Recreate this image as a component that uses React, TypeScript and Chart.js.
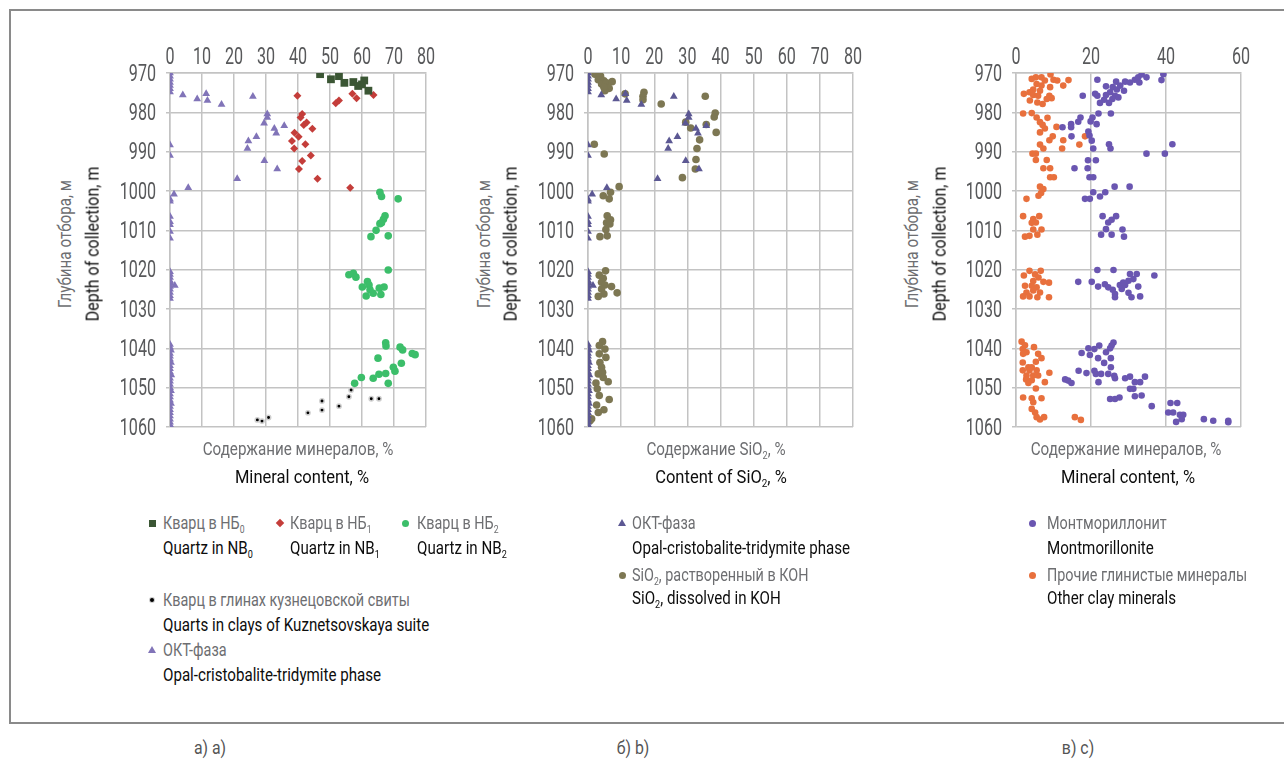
import React, { useEffect, useRef } from "react";
import { Chart, registerables } from "chart.js";

Chart.register(...registerables);

const FONT = 'Roboto, "Liberation Sans", sans-serif';
const TICK = "#58595b";
const GRID = "#c3c3c3";
const RU = "#6d6e71";
const EN = "#0d0d0d";
const SQ_RU = 0.8; // horizontal condensing of Russian lines
const SQ_EN = 0.84; // horizontal condensing of English lines
const TICK_SQUEEZE = 0.7; // horizontal condensing of tick labels

type P = [number, number]; // [content %, depth m]

// ---------- tick labels ----------
const depthTicks = [970, 980, 990, 1000, 1010, 1020, 1030, 1040, 1050, 1060];
const contentTicksAB = [0, 10, 20, 30, 40, 50, 60, 70, 80];
const contentTicksC = [0, 20, 40, 60];

// ---------- panel a ----------
const quartzNB0: P[] = [
  [46.9, 970.3], [50.3, 971.6], [52.8, 970.8], [54.5, 972.5], [57.3, 972.3],
  [58.8, 973.3], [60.0, 972.9], [60.7, 971.9], [62.0, 974.5],
];

const quartzNB1: P[] = [
  [39.8, 975.8], [57.0, 975.3], [58.3, 976.4], [63.6, 975.6], [51.8, 977.7],
  [52.8, 977.0], [41.3, 980.4], [40.8, 981.3], [41.8, 983.2], [42.7, 982.6],
  [44.5, 984.2], [38.9, 985.2], [40.2, 986.2], [38.1, 987.3], [42.3, 988.1],
  [38.8, 989.2], [44.0, 991.0], [41.3, 992.4], [40.3, 994.4], [46.1, 996.9],
  [56.3, 999.2],
];

const quartzNB2: P[] = [
  [65.6, 1000.3], [66.1, 1001.4], [71.3, 1002.0], [67.2, 1006.3], [66.7, 1007.2],
  [66.1, 1008.1], [65.6, 1008.3], [64.4, 1010.0], [62.8, 1011.6], [68.2, 1011.4],
  [68.2, 1020.1], [55.9, 1021.3], [57.3, 1020.9], [58.1, 1021.9], [60.1, 1024.4],
  [61.7, 1023.0], [62.2, 1023.9], [62.5, 1025.1], [61.3, 1026.7], [63.5, 1026.0],
  [65.4, 1024.7], [66.9, 1024.4], [65.9, 1026.3], [67.4, 1038.6], [67.5, 1039.4],
  [71.9, 1039.7], [72.7, 1040.4], [75.7, 1041.3], [76.6, 1041.6], [65.0, 1042.5],
  [72.3, 1043.8], [69.8, 1044.8], [70.3, 1045.8], [67.4, 1046.4], [65.3, 1046.6],
  [63.5, 1047.6], [59.8, 1047.4], [57.7, 1048.9], [68.2, 1048.9],
];

const quartzKuznetsovskaya: P[] = [
  [27.3, 1058.2], [28.75, 1058.5], [30.8, 1057.6], [43.1, 1056.4], [47.5, 1055.7],
  [47.5, 1053.4], [52.8, 1054.7], [55.9, 1052.3], [56.6, 1050.6], [62.9, 1052.8],
  [65.3, 1052.8],
];

// OCT phase (panels a and b)
const octPhase: P[] = [
  [0, 970.0], [0, 970.8], [0, 971.6], [0, 972.4], [0, 973.2], [0, 974.0], [0, 974.8],
  [4.0, 975.6], [8.5, 976.6], [11.3, 975.3], [11.7, 977.0], [16.1, 978.0], [25.9, 976.0],
  [30.4, 980.4], [30.4, 981.3], [29.4, 982.8], [32.6, 984.1], [33.2, 985.3], [35.7, 983.4],
  [27.0, 986.2], [24.5, 987.3], [24.2, 989.2], [29.5, 992.3], [33.5, 994.4], [21.0, 996.9],
  [5.7, 999.2], [1.25, 1000.8], [0, 1002.1], [0, 1002.6], [0, 988.3], [0, 991.0],
  [0, 1006.5], [0, 1007.8], [0, 1008.6], [0, 1010.3], [0, 1012.0],
  [0, 1020.5], [0, 1021.2], [0, 1022.0], [0, 1022.8], [0.3, 1023.5], [1.5, 1024.0],
  [0, 1024.3], [0, 1025.0], [0, 1025.8], [0, 1026.6], [0, 1027.3],
  [0, 1039.0], [0, 1039.7], [0.3, 1040.5], [0, 1041.3], [0, 1042.0], [0, 1042.8],
  [0.3, 1043.6], [0, 1044.4], [0, 1045.2], [0, 1046.0], [0.4, 1046.8], [0, 1047.6],
  [0, 1048.4], [0, 1049.2], [0, 1050.0], [0.3, 1050.8], [0, 1051.6], [0, 1052.4],
  [0, 1053.2], [0.3, 1054.0], [0, 1054.8], [0, 1055.6], [0, 1056.4], [0, 1057.2],
  [0, 1058.0], [0, 1058.8], [0, 1059.4],
];

// ---------- panel b ----------
const sio2InKOH: P[] = [
  [2.1, 970.3], [3.8, 970.8], [3.1, 971.7], [4.8, 972.0], [4.1, 972.8], [5.6, 972.5],
  [7.3, 972.2], [6.4, 973.9], [5.1, 974.5], [4.8, 973.6], [11.2, 975.3], [16.9, 974.9],
  [16.6, 975.9], [16.6, 976.8], [22.1, 977.9], [35.4, 975.9], [38.4, 980.2], [38.1, 981.2],
  [35.7, 983.1], [38.7, 985.1], [29.5, 982.5], [31.0, 984.0], [33.7, 987.0], [32.9, 989.2],
  [32.6, 992.0], [32.4, 994.4], [28.5, 996.6], [1.9, 988.1], [4.9, 990.6], [9.4, 998.9],
  [4.6, 1001.2], [6.8, 1000.3], [6.4, 1002.0], [5.8, 1006.3], [6.8, 1007.3], [5.6, 1008.1],
  [6.6, 1008.4], [5.4, 1009.8], [5.8, 1011.4], [3.6, 1011.6],
  [5.3, 1020.3], [3.4, 1021.4], [4.6, 1022.2], [4.1, 1023.2], [5.1, 1023.9], [7.1, 1024.3],
  [4.1, 1024.9], [8.8, 1025.9], [4.8, 1026.2], [3.1, 1026.8],
  [4.4, 1038.3], [3.4, 1039.3], [5.1, 1040.2], [3.4, 1041.4], [5.4, 1042.3], [3.6, 1043.6],
  [4.1, 1044.8], [4.4, 1046.1], [3.1, 1046.5], [4.6, 1047.4], [6.1, 1048.5], [2.4, 1048.8],
  [2.8, 1050.3], [3.4, 1052.0], [6.4, 1053.0], [2.6, 1054.4], [4.8, 1055.6], [3.1, 1056.3],
  [1.1, 1057.9], [0.6, 1058.4],
];

// ---------- panel c ----------
const montmorillonite: P[] = [
  [21.7, 971.7], [24.0, 973.4], [26.7, 972.2], [25.8, 973.6], [26.9, 974.2], [27.8, 973.2],
  [29.1, 972.2], [30.4, 972.4], [31.7, 971.7], [32.6, 971.1], [33.5, 970.4], [34.8, 971.1],
  [32.9, 972.4], [39.3, 970.3], [38.8, 971.8], [28.8, 974.5], [25.1, 974.9], [24.0, 975.6],
  [21.7, 975.8], [21.1, 975.3], [17.8, 975.8], [26.4, 975.8], [27.3, 976.2], [25.7, 976.6],
  [23.5, 976.8], [22.4, 977.6], [24.8, 977.6], [22.0, 980.3], [25.3, 980.3], [20.4, 981.3],
  [19.9, 982.3], [17.2, 981.3], [16.6, 982.4], [21.5, 983.0], [14.7, 983.0], [14.7, 983.8],
  [12.4, 983.8], [19.3, 984.9], [19.6, 985.9], [14.8, 986.1], [20.2, 987.2], [20.6, 989.2],
  [24.8, 988.1], [25.2, 989.2], [41.7, 988.1], [34.8, 990.5], [39.7, 990.5], [19.2, 992.2],
  [21.3, 992.2], [15.6, 994.2], [19.1, 994.2], [19.6, 996.5], [20.6, 996.5], [26.3, 998.9],
  [30.3, 998.9], [20.6, 1000.3], [23.8, 1000.3], [22.4, 1001.4], [18.4, 1002.0], [19.7, 1002.0],
  [23.1, 1006.4], [26.7, 1006.4], [25.5, 1007.3], [24.6, 1008.0], [24.0, 1009.7], [22.7, 1011.1],
  [25.5, 1011.1], [28.4, 1009.8], [28.8, 1011.6],
  [21.7, 1020.1], [26.0, 1020.1], [16.6, 1023.1], [20.2, 1023.1], [21.9, 1024.3], [23.7, 1023.7],
  [24.6, 1024.5], [25.8, 1025.1], [26.4, 1026.2], [26.4, 1027.0], [28.2, 1024.9], [29.1, 1023.9],
  [30.0, 1022.8], [30.4, 1021.1], [32.2, 1021.1], [31.3, 1022.4], [32.6, 1024.3], [30.0, 1025.9],
  [30.8, 1027.0], [33.1, 1026.8], [36.9, 1021.5], [27.7, 1023.9], [28.6, 1023.3],
  [26.0, 1038.5], [25.5, 1039.3], [25.1, 1040.0], [22.2, 1039.3], [20.9, 1040.2], [19.3, 1040.0],
  [17.5, 1041.2], [19.7, 1041.7], [24.0, 1041.0], [21.9, 1042.5], [25.3, 1042.5], [23.5, 1043.7],
  [25.3, 1044.8], [20.9, 1045.7], [16.7, 1045.7], [18.8, 1046.3], [21.3, 1046.5], [22.7, 1046.5],
  [24.6, 1046.5], [26.2, 1047.0], [26.4, 1047.6], [22.0, 1048.6], [13.1, 1047.9], [13.9, 1048.2],
  [14.8, 1048.8], [29.1, 1047.6], [30.4, 1047.2], [31.7, 1048.6], [33.1, 1048.6], [34.4, 1047.2],
  [30.4, 1050.3], [31.3, 1050.3], [31.7, 1052.2], [33.5, 1052.0], [25.1, 1052.9], [26.4, 1052.9],
  [27.6, 1052.5], [36.2, 1054.7], [41.2, 1053.9], [43.0, 1053.9], [40.6, 1056.3], [41.9, 1056.3],
  [43.7, 1056.9], [44.6, 1056.9], [44.2, 1058.0], [42.7, 1058.7], [50.1, 1058.0], [52.6, 1058.4],
  [56.6, 1058.4], [56.6, 1058.8],
];

const otherClayMinerals: P[] = [
  [4.2, 971.5], [5.3, 971.1], [6.8, 971.1], [9.2, 970.4], [7.7, 971.9], [10.0, 971.7],
  [11.0, 971.9], [14.0, 971.8], [12.6, 973.2], [9.1, 973.6], [5.5, 972.8], [6.8, 973.2],
  [4.6, 974.2], [6.4, 974.5], [2.1, 975.3], [3.6, 974.9], [4.6, 975.6], [5.9, 975.8],
  [8.9, 975.8], [9.5, 976.4], [8.2, 976.6], [3.7, 977.0], [5.7, 977.5], [7.1, 977.9],
  [1.9, 980.3], [4.2, 980.2], [5.5, 981.3], [8.4, 981.4], [6.4, 982.5], [7.1, 983.2],
  [10.8, 983.7], [7.7, 984.1], [6.4, 985.1], [9.8, 986.1], [8.9, 987.1], [12.6, 987.1],
  [18.4, 986.1], [16.9, 988.2], [6.4, 988.2], [7.3, 989.2], [12.3, 989.2], [4.4, 990.5],
  [5.3, 990.5], [8.2, 992.1], [5.3, 992.1], [7.3, 994.2], [9.1, 994.2], [9.1, 996.5],
  [10.1, 996.5], [6.4, 998.9], [7.3, 999.5], [6.7, 1000.5], [6.0, 1001.2], [2.8, 1002.0],
  [1.9, 1006.4], [4.6, 1007.1], [6.2, 1006.4], [4.2, 1008.1], [5.3, 1008.0], [4.6, 1009.8],
  [6.8, 1009.8], [5.7, 1011.1], [2.4, 1011.6], [3.6, 1011.4],
  [2.1, 1021.5], [3.6, 1020.3], [5.1, 1021.2], [6.6, 1020.3], [6.0, 1022.0], [4.6, 1022.9],
  [7.3, 1023.1], [8.8, 1023.3], [2.4, 1024.1], [4.2, 1024.1], [5.5, 1024.5], [4.6, 1025.3],
  [2.8, 1025.8], [6.4, 1025.8], [1.9, 1026.8], [3.6, 1026.8], [5.7, 1027.0], [8.8, 1027.0],
  [1.5, 1038.3], [2.4, 1039.2], [1.8, 1040.2], [2.8, 1041.0], [4.8, 1039.7], [1.9, 1041.4],
  [5.9, 1041.4], [6.8, 1042.5], [5.3, 1043.4], [1.8, 1043.6], [3.3, 1044.8], [4.2, 1044.8],
  [1.8, 1045.6], [3.6, 1045.6], [5.5, 1045.6], [8.9, 1046.2], [2.8, 1046.9], [4.6, 1046.9],
  [5.9, 1046.9], [2.7, 1047.9], [4.2, 1048.1], [7.7, 1048.6], [3.3, 1048.8], [5.3, 1050.2],
  [1.9, 1052.5], [4.2, 1052.7], [6.8, 1052.7], [4.6, 1053.7], [4.2, 1055.4], [5.1, 1056.3],
  [5.5, 1057.5], [6.4, 1058.1], [7.5, 1057.5], [15.7, 1057.5], [17.3, 1058.2],
];

const toXY = (arr: P[]) => arr.map(([x, y]) => ({ x, y }));

// draws the scales' tick labels in a condensed face
const condensedTicks = {
  id: "condensedTicks",
  afterDraw(chart: any) {
    const ctx = chart.ctx;
    const xs = chart.scales.x;
    const ys = chart.scales.y;
    ctx.save();
    ctx.fillStyle = TICK;
    ctx.font = `23px ${FONT}`;
    ctx.textBaseline = "alphabetic";
    ctx.textAlign = "right";
    ys.ticks.forEach((t: any) => {
      const py = ys.getPixelForValue(t.value);
      ctx.save();
      ctx.translate(ys.right - 14, py + 7.5);
      ctx.scale(TICK_SQUEEZE, 1);
      ctx.fillText(String(t.value), 0, 0);
      ctx.restore();
    });
    ctx.textAlign = "center";
    xs.ticks.forEach((t: any) => {
      const px = xs.getPixelForValue(t.value);
      ctx.save();
      ctx.translate(px, xs.bottom - 9);
      ctx.scale(TICK_SQUEEZE, 1);
      ctx.fillText(String(t.value), 0, 0);
      ctx.restore();
    });
    ctx.restore();
  },
};

type PanelProps = {
  left: number; top: number; width: number; height: number;
  yAxisW: number; xAxisH: number; padRight: number; padBottom: number;
  xTicks: number[]; datasets: any[];
};

function ScatterPanel(p: PanelProps) {
  const ref = useRef<HTMLCanvasElement>(null);
  useEffect(() => {
    const xMin = p.xTicks[0];
    const xMax = p.xTicks[p.xTicks.length - 1];
    const chart = new Chart(ref.current as HTMLCanvasElement, {
      type: "scatter",
      data: { datasets: p.datasets },
      plugins: [condensedTicks],
      options: {
        responsive: false,
        animation: false,
        devicePixelRatio: 1,
        layout: { padding: { left: 0, top: 0, right: p.padRight, bottom: p.padBottom } },
        plugins: { legend: { display: false }, tooltip: { enabled: false } },
        scales: {
          x: {
            type: "linear",
            position: "top",
            min: xMin,
            max: xMax,
            afterBuildTicks: (s: any) => { s.ticks = p.xTicks.map((v) => ({ value: v })); },
            afterFit: (s: any) => { s.height = p.xAxisH; },
            ticks: { display: false },
            grid: { color: GRID, lineWidth: 1.5, drawTicks: false },
            border: { color: GRID, width: 1.5 },
          },
          y: {
            type: "linear",
            reverse: true,
            min: depthTicks[0],
            max: depthTicks[depthTicks.length - 1],
            afterBuildTicks: (s: any) => { s.ticks = depthTicks.map((v) => ({ value: v })); },
            afterFit: (s: any) => { s.width = p.yAxisW; },
            ticks: { display: false },
            grid: { color: GRID, lineWidth: 1.5, tickLength: 4 },
            border: { color: GRID, width: 1.5 },
          },
        },
      } as any,
    });
    return () => chart.destroy();
  }, []);
  return (
    <canvas
      ref={ref}
      width={p.width}
      height={p.height}
      style={{ position: "absolute", left: p.left, top: p.top, width: p.width, height: p.height }}
    />
  );
}

const Sub = ({ children }: { children: any }) => (
  <sub style={{ fontSize: "0.6em", verticalAlign: "-0.35em", lineHeight: 0 }}>{children}</sub>
);

function T({ x, y, c, s = 18, k = SQ_EN, center = false, children }: any) {
  return (
    <div
      style={{
        position: "absolute", left: x, top: y - s * 0.6, fontFamily: FONT, fontSize: s,
        lineHeight: `${s * 1.2}px`, color: c, whiteSpace: "nowrap",
        transform: center ? `translateX(-50%) scaleX(${k})` : `scaleX(${k})`,
        transformOrigin: center ? "50% 50%" : "0 50%",
      }}
    >
      {children}
    </div>
  );
}

function VT({ x, y, c, s = 19, k = SQ_EN, children }: any) {
  return (
    <div
      style={{
        position: "absolute", left: x, top: y, fontFamily: FONT, fontSize: s,
        lineHeight: `${s * 1.2}px`, color: c, whiteSpace: "nowrap",
        transform: `translate(-50%, -50%) rotate(-90deg) scaleX(${k})`,
      }}
    >
      {children}
    </div>
  );
}

function Marker({ x, y, kind, color }: any) {
  const base: any = { position: "absolute" };
  if (kind === "square") return <div style={{ ...base, left: x - 3.5, top: y - 3.5, width: 7, height: 7, background: color }} />;
  if (kind === "diamond") return <div style={{ ...base, left: x - 3, top: y - 3, width: 6, height: 6, background: color, transform: "rotate(45deg)" }} />;
  if (kind === "circle") return <div style={{ ...base, left: x - 3.5, top: y - 3.5, width: 7, height: 7, background: color, borderRadius: "50%" }} />;
  if (kind === "dot") return <div style={{ ...base, left: x - 2, top: y - 2, width: 4, height: 4, background: color, borderRadius: "50%", boxShadow: "0 0 0 1px #ccc" }} />;
  return (
    <div style={{ ...base, left: x - 4, top: y - 4, width: 0, height: 0, borderLeft: "4px solid transparent", borderRight: "4px solid transparent", borderBottom: `7px solid ${color}` }} />
  );
}

const C_NB0 = "#3b5634";
const C_NB1 = "#c43d3a";
const C_NB2 = "#3cbe6a";
const C_OCT_A = "#8174b8";
const C_OCT_B = "#5c5893";
const C_KOH = "#7d7753";
const C_MONT = "#6a56b1";
const C_OTHER = "#e8703d";

export default function App() {
  const dsA = [
    { data: toXY(quartzNB0), pointStyle: "rect", pointRadius: 5.5, backgroundColor: C_NB0, borderColor: C_NB0, borderWidth: 0 },
    { data: toXY(quartzNB1), pointStyle: "rectRot", pointRadius: 4, backgroundColor: C_NB1, borderColor: C_NB1, borderWidth: 0 },
    { data: toXY(quartzNB2), pointStyle: "circle", pointRadius: 3.8, backgroundColor: C_NB2, borderColor: C_NB2, borderWidth: 0 },
    { data: toXY(quartzKuznetsovskaya), pointStyle: "circle", pointRadius: 2.2, backgroundColor: "#000", borderColor: "#d0d0d0", borderWidth: 1.5 },
    { data: toXY(octPhase), pointStyle: "triangle", pointRadius: 4.5, backgroundColor: C_OCT_A, borderColor: C_OCT_A, borderWidth: 0 },
  ];
  const dsB = [
    { data: toXY(octPhase), pointStyle: "triangle", pointRadius: 4.5, backgroundColor: C_OCT_B, borderColor: C_OCT_B, borderWidth: 0 },
    { data: toXY(sio2InKOH), pointStyle: "circle", pointRadius: 3.8, backgroundColor: C_KOH, borderColor: C_KOH, borderWidth: 0 },
  ];
  const dsC = [
    { data: toXY(montmorillonite), pointStyle: "circle", pointRadius: 3.3, backgroundColor: C_MONT, borderColor: C_MONT, borderWidth: 0 },
    { data: toXY(otherClayMinerals), pointStyle: "circle", pointRadius: 3.3, backgroundColor: C_OTHER, borderColor: C_OTHER, borderWidth: 0 },
  ];

  return (
    <div style={{ position: "fixed", left: 0, top: 0, width: 1284, height: 760, overflow: "hidden", background: "#fff" }}>
      <div style={{ position: "absolute", left: 9, top: 9, width: 1300, height: 711, border: "2px solid #8a8a8a" }} />

      <ScatterPanel left={100} top={40} width={340} height={400} yAxisW={70} xAxisH={33} padRight={14} padBottom={13} xTicks={contentTicksAB} datasets={dsA} />
      <ScatterPanel left={520} top={40} width={350} height={400} yAxisW={68} xAxisH={33} padRight={17} padBottom={13} xTicks={contentTicksAB} datasets={dsB} />
      <ScatterPanel left={950} top={40} width={310} height={400} yAxisW={66} xAxisH={33} padRight={19} padBottom={13} xTicks={contentTicksC} datasets={dsC} />

      {/* y titles */}
      <VT x={65} y={244} c={RU} k={SQ_RU}>Глубина отбора, м</VT>
      <VT x={93} y={244} c={EN}>Depth of collection, m</VT>
      <VT x={484} y={244} c={RU} k={SQ_RU}>Глубина отбора, м</VT>
      <VT x={511} y={244} c={EN}>Depth of collection, m</VT>
      <VT x={912} y={244} c={RU} k={SQ_RU}>Глубина отбора, м</VT>
      <VT x={940} y={244} c={EN}>Depth of collection, m</VT>

      {/* x titles */}
      <T x={298} y={449} c={RU} s={19} k={SQ_RU} center>Содержание минералов, %</T>
      <T x={302} y={477} c={EN} s={19} k={0.87} center>Mineral content, %</T>
      <T x={716} y={449} c={RU} s={19} k={SQ_RU} center>Содержание SiO<Sub>2</Sub>, %</T>
      <T x={721} y={477} c={EN} s={19} k={0.87} center>Content of SiO<Sub>2</Sub>, %</T>
      <T x={1126} y={449} c={RU} s={19} k={SQ_RU} center>Содержание минералов, %</T>
      <T x={1128} y={477} c={EN} s={19} k={0.87} center>Mineral content, %</T>

      {/* legend a */}
      <Marker x={152} y={523} kind="square" color={C_NB0} />
      <T x={163} y={523} c={RU} k={SQ_RU}>Кварц в НБ<Sub>0</Sub></T>
      <T x={163} y={548} c={EN}>Quartz in NB<Sub>0</Sub></T>
      <Marker x={280} y={523} kind="diamond" color={C_NB1} />
      <T x={290} y={523} c={RU} k={SQ_RU}>Кварц в НБ<Sub>1</Sub></T>
      <T x={290} y={548} c={EN}>Quartz in NB<Sub>1</Sub></T>
      <Marker x={405} y={523} kind="circle" color={C_NB2} />
      <T x={417} y={523} c={RU} k={SQ_RU}>Кварц в НБ<Sub>2</Sub></T>
      <T x={417} y={548} c={EN}>Quartz in NB<Sub>2</Sub></T>
      <Marker x={152} y={600} kind="dot" color="#000" />
      <T x={163} y={600} c={RU} k={SQ_RU}>Кварц в глинах кузнецовской свиты</T>
      <T x={163} y={625} c={EN}>Quarts in clays of Kuznetsovskaya suite</T>
      <Marker x={152} y={650} kind="triangle" color={C_OCT_A} />
      <T x={163} y={650} c={RU} k={SQ_RU}>ОКТ-фаза</T>
      <T x={163} y={675} c={EN}>Opal-cristobalite-tridymite phase</T>

      {/* legend b */}
      <Marker x={622} y={523} kind="triangle" color={C_OCT_B} />
      <T x={632} y={523} c={RU} k={SQ_RU}>ОКТ-фаза</T>
      <T x={632} y={548} c={EN}>Opal-cristobalite-tridymite phase</T>
      <Marker x={622} y={575} kind="circle" color={C_KOH} />
      <T x={632} y={575} c={RU} k={SQ_RU}>SiO<Sub>2</Sub>, растворенный в КОН</T>
      <T x={632} y={598} c={EN}>SiO<Sub>2</Sub>, dissolved in KOH</T>

      {/* legend c */}
      <Marker x={1032} y={523} kind="circle" color={C_MONT} />
      <T x={1047} y={523} c={RU} k={SQ_RU}>Монтмориллонит</T>
      <T x={1047} y={548} c={EN}>Montmorillonite</T>
      <Marker x={1032} y={575} kind="circle" color={C_OTHER} />
      <T x={1047} y={575} c={RU} k={SQ_RU}>Прочие глинистые минералы</T>
      <T x={1047} y={598} c={EN}>Other clay minerals</T>

      {/* panel captions */}
      <T x={210} y={748} c="#555" s={18} k={0.88} center>а) a)</T>
      <T x={633} y={748} c="#555" s={18} k={0.88} center>б) b)</T>
      <T x={1078} y={748} c="#555" s={18} k={0.88} center>в) c)</T>
    </div>
  );
}
